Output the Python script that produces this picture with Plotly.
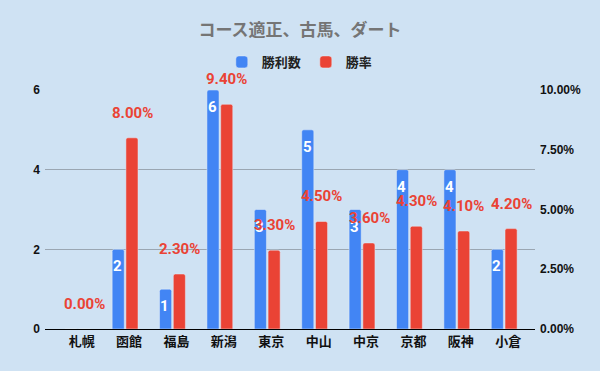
import plotly.graph_objects as go

categories = ["札幌", "函館", "福島", "新潟", "東京", "中山", "中京", "京都", "阪神", "小倉"]
wins = [0, 2, 1, 6, 3, 5, 3, 4, 4, 2]
win_rate = [0.0, 0.080, 0.023, 0.094, 0.033, 0.045, 0.036, 0.043, 0.041, 0.042]
left_ticks = [0, 2, 4, 6]
right_ticks = [0, 0.025, 0.05, 0.075, 0.10]

BLUE = "#4285f4"
RED = "#ea4335"
BG = "#cfe2f3"
LABEL_FONT = "Roboto, Noto Sans CJK JP, sans-serif"
CJK = "Noto Sans CJK JP, sans-serif"
TICK_FONT = "Liberation Sans, Arial, sans-serif"

fig = go.Figure()
fig.add_trace(go.Bar(x=categories, y=wins, name="勝利数", marker_color=BLUE,
                     yaxis="y", offsetgroup="a"))
fig.add_trace(go.Bar(x=categories, y=win_rate, name="勝率", marker_color=RED,
                     yaxis="y2", offsetgroup="b"))

annotations = []
for c, w in zip(categories, wins):
    if w > 0:
        annotations.append(dict(x=c, y=w, xref="x", yref="y", text=str(w),
                                showarrow=False, xshift=-7.5, yshift=-17,
                                font=dict(family=LABEL_FONT, size=15, color="white",
                                          weight="bold")))
for c, r in zip(categories, win_rate):
    annotations.append(dict(x=c, y=r, xref="x", yref="y2", text=f"{r*100:.2f}%",
                            showarrow=False, xshift=7, yshift=25,
                            font=dict(family=LABEL_FONT, size=15, color=RED,
                                      weight="bold")))

fig.update_layout(
    width=600, height=371,
    paper_bgcolor=BG, plot_bgcolor=BG,
    margin=dict(l=45, r=65, t=90, b=42, autoexpand=False),
    barmode="group", bargap=0.42, bargroupgap=0.12,
    barcornerradius=2,
    title=dict(text="<b>コース適正、古馬、ダート</b>", x=0.5, xanchor="center",
               y=1 - 30 / 371, yanchor="middle",
               font=dict(family=CJK, size=17, color="#757575")),
    legend=dict(orientation="h", x=0.52, xanchor="center", y=1 - 62 / 371,
                yref="container", yanchor="middle",
                font=dict(family=CJK, size=13, color="#222222", weight="bold"),
                bgcolor="rgba(0,0,0,0)"),
    xaxis=dict(type="category", range=[-0.69, 9.65], showgrid=False,
               showline=True, linecolor="#000000", linewidth=1,
               ticks="", ticklabelshift=4, automargin=False,
               tickfont=dict(family=CJK, size=13, color="#111111", weight="bold")),
    yaxis=dict(range=[0, 6], tickvals=left_ticks, showgrid=True,
               gridcolor="#9aa6b2", gridwidth=1, zeroline=False,
               ticks="", ticklabelstandoff=4, automargin=False,
               tickfont=dict(family=TICK_FONT, size=12, color="#111111", weight="bold")),
    yaxis2=dict(range=[0, 0.10], tickvals=right_ticks, tickformat=".2%",
                overlaying="y", side="right", showgrid=False, zeroline=False,
                ticks="", ticklabelstandoff=4, automargin=False,
                tickfont=dict(family=TICK_FONT, size=12, color="#111111", weight="bold")),
    annotations=annotations,
    font=dict(family=CJK),
)

fig.write_html("out.html", config={"displayModeBar": False},
               post_script="document.body.style.margin='0';document.body.style.background='#cfe2f3';")
